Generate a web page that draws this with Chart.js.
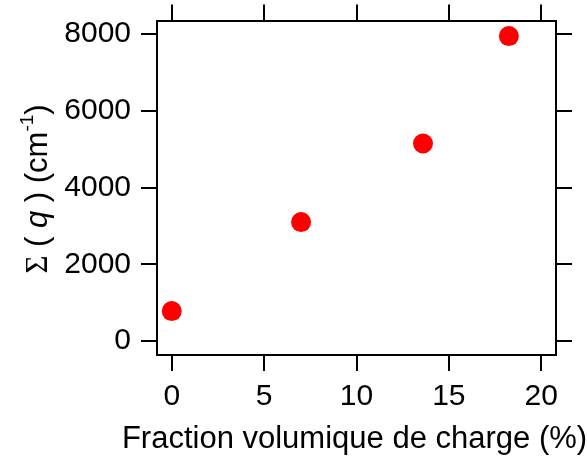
<!DOCTYPE html>
<html>
<head>
<meta charset="utf-8">
<script src="https://cdn.jsdelivr.net/npm/chart.js@4"></script>
<style>
  html, body { margin: 0; padding: 0; background: #fff; }
  #wrap { width: 587px; height: 457px; }
</style>
</head>
<body>
<div id="wrap"><canvas id="chart"></canvas></div>
<script>
// data
const fractions = [0, 7.0, 13.6, 18.25];      // fraction volumique (%)
const sigmaValues = [780, 3100, 5150, 7950];  // Σ(q) (cm-1)
const xTicks = [0, 5, 10, 15, 20];
const yTicks = [0, 2000, 4000, 6000, 8000];
const xTitle = "Fraction volumique de charge (%)";

const FONT = "'Liberation Sans', Arial, sans-serif";

// axis titles drawn by hand: y one has an italic q and a superscript -1
const titlesPlugin = {
    id: "titles",
    afterDraw(chart) {
        const ctx = chart.ctx;
        const area = chart.chartArea;
        ctx.save();
        ctx.fillStyle = "#000";
        ctx.textBaseline = "alphabetic";

        // x title
        ctx.font = "31px " + FONT;
        ctx.textAlign = "center";
        ctx.fillText(xTitle, (area.left + area.right) / 2 - 2, 448);

        // y title
        ctx.textAlign = "left";
        const parts = [
            { t: "Σ", f: "31px 'Liberation Serif', serif", dy: 0 },
            { t: " ( ", f: "31px " + FONT, dy: 0 },
            { t: "q", f: "italic 31px " + FONT, dy: 0 },
            { t: " ) (cm", f: "31px " + FONT, dy: 0 },
            { t: "-1", f: "19px " + FONT, dy: -14 },
            { t: ")", f: "31px " + FONT, dy: 0 }
        ];
        let total = 0;
        parts.forEach(p => { ctx.font = p.f; p.w = ctx.measureText(p.t).width; total += p.w; });
        ctx.translate(47, 189);
        ctx.rotate(-Math.PI / 2);
        let x = -total / 2;
        parts.forEach(p => {
            ctx.font = p.f;
            ctx.fillText(p.t, x, p.dy);
            x += p.w;
        });
        ctx.restore();
    }
};

const gridOpts = { drawOnChartArea: false, tickLength: 16, color: "#000", lineWidth: 2 };
const borderOpts = { color: "#000", width: 2 };

function noPadX(s, h) { s.height = h; s.paddingLeft = 0; s.paddingRight = 0; }
function noPadY(s, w) { s.width = w; s.paddingTop = 0; s.paddingBottom = 0; }

new Chart(document.getElementById("chart"), {
    type: "scatter",
    data: {
        datasets: [{
            data: fractions.map((f, i) => ({ x: f, y: sigmaValues[i] })),
            backgroundColor: "#ff0000",
            borderWidth: 0,
            pointRadius: 10,
            pointHoverRadius: 10
        }]
    },
    options: {
        responsive: true,
        maintainAspectRatio: false,
        animation: false,
        layout: { padding: 0 },
        plugins: { legend: { display: false }, tooltip: { enabled: false } },
        scales: {
            x: {
                type: "linear", position: "bottom", min: -0.8, max: 20.8,
                afterBuildTicks: s => { s.ticks = xTicks.map(v => ({ value: v })); },
                afterFit: s => noPadX(s, 102),
                grid: gridOpts, border: borderOpts,
                ticks: { color: "#000", padding: 8, maxRotation: 0, font: { family: FONT, size: 30 },
                         callback: v => String(v) }
            },
            x2: {
                type: "linear", position: "top", min: -0.8, max: 20.8,
                afterBuildTicks: s => { s.ticks = xTicks.map(v => ({ value: v })); },
                afterFit: s => noPadX(s, 20.5),
                grid: gridOpts, border: borderOpts,
                ticks: { display: false }
            },
            y: {
                type: "linear", position: "left", min: -365, max: 8357,
                afterBuildTicks: s => { s.ticks = yTicks.map(v => ({ value: v })); },
                afterFit: s => noPadY(s, 157),
                grid: gridOpts, border: borderOpts,
                ticks: { color: "#000", padding: 10, font: { family: FONT, size: 30 },
                         callback: v => String(v) }
            },
            y2: {
                type: "linear", position: "right", min: -365, max: 8357,
                afterBuildTicks: s => { s.ticks = yTicks.map(v => ({ value: v })); },
                afterFit: s => noPadY(s, 31),
                grid: gridOpts, border: borderOpts,
                ticks: { display: false }
            }
        }
    },
    plugins: [titlesPlugin]
});
</script>
</body>
</html>
